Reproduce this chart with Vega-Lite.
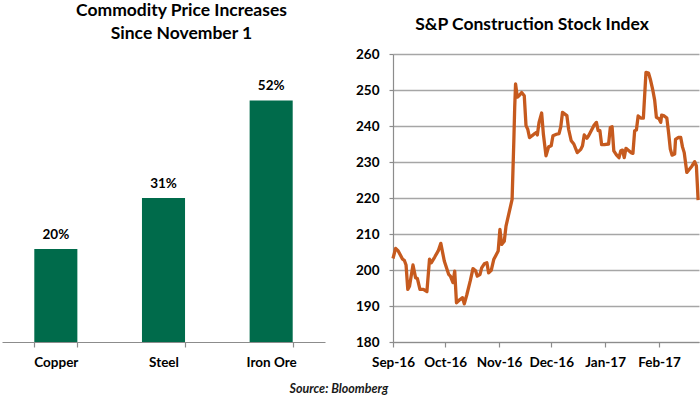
{
  "$schema": "https://vega.github.io/schema/vega-lite/v6.json",
  "background": "white",
  "padding": {"left": 2, "top": 1, "right": 1, "bottom": 2},
  "bounds": "flush",
  "spacing": 68,
  "title": {"text": "Source: Bloomberg", "orient": "bottom", "anchor": "middle", "dx": -12, "offset": 14, "fontSize": 12.5, "fontStyle": "italic", "fontWeight": "bold", "font": "Lato", "color": "#1a1a1a"},
  "datasets": {
    "commodities": [
      {"commodity": "Copper", "increase": 0.20},
      {"commodity": "Steel", "increase": 0.31},
      {"commodity": "Iron Ore", "increase": 0.52}
    ],
    "index": [
      {"date": "2016-09-01T00:00:00Z", "value": 203.2},
      {"date": "2016-09-02T12:00:00Z", "value": 206.0},
      {"date": "2016-09-04T00:00:00Z", "value": 205.3},
      {"date": "2016-09-06T12:00:00Z", "value": 203.0},
      {"date": "2016-09-07T12:00:00Z", "value": 202.7},
      {"date": "2016-09-08T12:00:00Z", "value": 201.4},
      {"date": "2016-09-09T12:00:00Z", "value": 194.6},
      {"date": "2016-09-10T12:00:00Z", "value": 195.5},
      {"date": "2016-09-12T12:00:00Z", "value": 201.4},
      {"date": "2016-09-14T00:00:00Z", "value": 197.8},
      {"date": "2016-09-15T00:00:00Z", "value": 197.7},
      {"date": "2016-09-16T12:00:00Z", "value": 194.6},
      {"date": "2016-09-18T12:00:00Z", "value": 194.6},
      {"date": "2016-09-20T12:00:00Z", "value": 194.0},
      {"date": "2016-09-22T00:00:00Z", "value": 203.0},
      {"date": "2016-09-23T00:00:00Z", "value": 202.0},
      {"date": "2016-09-25T00:00:00Z", "value": 203.6},
      {"date": "2016-09-27T00:00:00Z", "value": 205.3},
      {"date": "2016-09-28T12:00:00Z", "value": 207.4},
      {"date": "2016-09-30T12:00:00Z", "value": 202.5},
      {"date": "2016-10-03T00:00:00Z", "value": 198.8},
      {"date": "2016-10-04T00:00:00Z", "value": 198.3},
      {"date": "2016-10-05T12:00:00Z", "value": 196.5},
      {"date": "2016-10-06T12:00:00Z", "value": 199.7},
      {"date": "2016-10-07T12:00:00Z", "value": 190.9},
      {"date": "2016-10-09T12:00:00Z", "value": 191.8},
      {"date": "2016-10-11T00:00:00Z", "value": 192.3},
      {"date": "2016-10-12T00:00:00Z", "value": 190.6},
      {"date": "2016-10-13T12:00:00Z", "value": 193.2},
      {"date": "2016-10-15T12:00:00Z", "value": 197.1},
      {"date": "2016-10-17T00:00:00Z", "value": 200.4},
      {"date": "2016-10-18T12:00:00Z", "value": 199.8},
      {"date": "2016-10-19T12:00:00Z", "value": 198.3},
      {"date": "2016-10-21T00:00:00Z", "value": 198.7},
      {"date": "2016-10-22T00:00:00Z", "value": 200.6},
      {"date": "2016-10-23T12:00:00Z", "value": 201.7},
      {"date": "2016-10-25T00:00:00Z", "value": 202.0},
      {"date": "2016-10-26T00:00:00Z", "value": 199.2},
      {"date": "2016-10-27T12:00:00Z", "value": 199.9},
      {"date": "2016-10-29T00:00:00Z", "value": 203.0},
      {"date": "2016-10-30T00:00:00Z", "value": 203.9},
      {"date": "2016-10-31T12:00:00Z", "value": 205.3},
      {"date": "2016-11-01T12:00:00Z", "value": 211.3},
      {"date": "2016-11-02T12:00:00Z", "value": 207.1},
      {"date": "2016-11-04T00:00:00Z", "value": 208.0},
      {"date": "2016-11-05T00:00:00Z", "value": 212.2},
      {"date": "2016-11-07T00:00:00Z", "value": 216.4},
      {"date": "2016-11-08T12:00:00Z", "value": 219.6},
      {"date": "2016-11-09T12:00:00Z", "value": 235.9},
      {"date": "2016-11-10T00:00:00Z", "value": 245.2},
      {"date": "2016-11-10T12:00:00Z", "value": 251.7},
      {"date": "2016-11-11T12:00:00Z", "value": 248.0},
      {"date": "2016-11-12T12:00:00Z", "value": 248.4},
      {"date": "2016-11-14T00:00:00Z", "value": 249.3},
      {"date": "2016-11-15T12:00:00Z", "value": 248.4},
      {"date": "2016-11-16T12:00:00Z", "value": 240.1},
      {"date": "2016-11-17T12:00:00Z", "value": 239.1},
      {"date": "2016-11-18T12:00:00Z", "value": 236.8},
      {"date": "2016-11-20T00:00:00Z", "value": 237.3},
      {"date": "2016-11-21T12:00:00Z", "value": 237.9},
      {"date": "2016-11-22T12:00:00Z", "value": 238.2},
      {"date": "2016-11-23T00:00:00Z", "value": 237.5},
      {"date": "2016-11-24T00:00:00Z", "value": 241.0},
      {"date": "2016-11-25T12:00:00Z", "value": 243.6},
      {"date": "2016-11-26T12:00:00Z", "value": 237.7},
      {"date": "2016-11-28T00:00:00Z", "value": 231.7},
      {"date": "2016-11-29T12:00:00Z", "value": 234.2},
      {"date": "2016-12-01T00:00:00Z", "value": 234.5},
      {"date": "2016-12-02T00:00:00Z", "value": 237.3},
      {"date": "2016-12-04T00:00:00Z", "value": 237.7},
      {"date": "2016-12-05T12:00:00Z", "value": 237.9},
      {"date": "2016-12-06T12:00:00Z", "value": 239.8},
      {"date": "2016-12-07T12:00:00Z", "value": 243.8},
      {"date": "2016-12-10T00:00:00Z", "value": 242.9},
      {"date": "2016-12-11T00:00:00Z", "value": 239.1},
      {"date": "2016-12-12T12:00:00Z", "value": 235.9},
      {"date": "2016-12-14T00:00:00Z", "value": 235.0},
      {"date": "2016-12-16T00:00:00Z", "value": 232.6},
      {"date": "2016-12-18T00:00:00Z", "value": 233.5},
      {"date": "2016-12-19T00:00:00Z", "value": 234.5},
      {"date": "2016-12-20T00:00:00Z", "value": 237.5},
      {"date": "2016-12-21T12:00:00Z", "value": 236.6},
      {"date": "2016-12-22T12:00:00Z", "value": 237.3},
      {"date": "2016-12-24T00:00:00Z", "value": 238.7},
      {"date": "2016-12-25T12:00:00Z", "value": 240.1},
      {"date": "2016-12-27T00:00:00Z", "value": 241.0},
      {"date": "2016-12-28T00:00:00Z", "value": 238.7},
      {"date": "2016-12-29T00:00:00Z", "value": 238.7},
      {"date": "2016-12-30T00:00:00Z", "value": 234.8},
      {"date": "2016-12-31T12:00:00Z", "value": 234.8},
      {"date": "2017-01-03T00:00:00Z", "value": 235.0},
      {"date": "2017-01-04T00:00:00Z", "value": 239.6},
      {"date": "2017-01-05T00:00:00Z", "value": 239.8},
      {"date": "2017-01-06T00:00:00Z", "value": 233.1},
      {"date": "2017-01-07T12:00:00Z", "value": 232.0},
      {"date": "2017-01-09T00:00:00Z", "value": 231.2},
      {"date": "2017-01-10T00:00:00Z", "value": 233.1},
      {"date": "2017-01-11T00:00:00Z", "value": 233.3},
      {"date": "2017-01-12T00:00:00Z", "value": 231.2},
      {"date": "2017-01-13T00:00:00Z", "value": 233.8},
      {"date": "2017-01-14T12:00:00Z", "value": 233.2},
      {"date": "2017-01-16T00:00:00Z", "value": 232.6},
      {"date": "2017-01-17T00:00:00Z", "value": 232.4},
      {"date": "2017-01-18T00:00:00Z", "value": 238.7},
      {"date": "2017-01-19T00:00:00Z", "value": 238.9},
      {"date": "2017-01-20T00:00:00Z", "value": 242.8},
      {"date": "2017-01-21T12:00:00Z", "value": 242.2},
      {"date": "2017-01-23T00:00:00Z", "value": 242.2},
      {"date": "2017-01-24T12:00:00Z", "value": 254.9},
      {"date": "2017-01-26T00:00:00Z", "value": 254.7},
      {"date": "2017-01-27T00:00:00Z", "value": 253.0},
      {"date": "2017-01-28T12:00:00Z", "value": 249.8},
      {"date": "2017-01-29T12:00:00Z", "value": 247.2},
      {"date": "2017-01-30T12:00:00Z", "value": 242.4},
      {"date": "2017-02-01T00:00:00Z", "value": 242.0},
      {"date": "2017-02-02T00:00:00Z", "value": 241.0},
      {"date": "2017-02-02T12:00:00Z", "value": 243.0},
      {"date": "2017-02-04T00:00:00Z", "value": 242.8},
      {"date": "2017-02-05T12:00:00Z", "value": 242.2},
      {"date": "2017-02-06T12:00:00Z", "value": 238.2},
      {"date": "2017-02-07T12:00:00Z", "value": 233.6},
      {"date": "2017-02-08T12:00:00Z", "value": 231.9},
      {"date": "2017-02-10T00:00:00Z", "value": 232.2},
      {"date": "2017-02-10T12:00:00Z", "value": 236.3},
      {"date": "2017-02-12T00:00:00Z", "value": 236.8},
      {"date": "2017-02-13T12:00:00Z", "value": 236.8},
      {"date": "2017-02-14T12:00:00Z", "value": 234.2},
      {"date": "2017-02-15T12:00:00Z", "value": 232.6},
      {"date": "2017-02-17T00:00:00Z", "value": 227.1},
      {"date": "2017-02-18T12:00:00Z", "value": 228.0},
      {"date": "2017-02-20T00:00:00Z", "value": 228.9},
      {"date": "2017-02-21T12:00:00Z", "value": 230.1},
      {"date": "2017-02-22T12:00:00Z", "value": 228.9},
      {"date": "2017-02-23T12:00:00Z", "value": 219.4}
    ]
  },
  "hconcat": [
    {
      "width": 323,
      "height": 288,
      "title": {"text": ["Commodity Price Increases", "Since November 1"], "anchor": "middle", "dx": 18, "lineHeight": 23, "offset": 12},
      "data": {"name": "commodities"},
      "encoding": {
        "x": {"field": "commodity", "type": "nominal", "sort": null,
              "scale": {"paddingInner": 0.6, "paddingOuter": 0.3},
              "axis": {"title": null, "labelAngle": 0, "tickBand": "extent", "tickSize": 5, "labelPadding": 8, "labelFontSize": 13.5}},
        "y": {"field": "increase", "type": "quantitative", "scale": {"domain": [0, 0.62]}, "axis": null}
      },
      "layer": [
        {"mark": {"type": "bar", "color": "#006B4B"}},
        {"mark": {"type": "text", "baseline": "middle", "dy": -14, "fontWeight": "bold", "fontSize": 13.5, "font": "Lato", "color": "#000"},
         "encoding": {"text": {"field": "increase", "type": "quantitative", "format": ".0%"}}}
      ]
    },
    {
      "width": 306,
      "height": 288,
      "title": {"text": "S&P Construction Stock Index", "anchor": "middle", "frame": "group", "dx": -14, "offset": 14},
      "data": {"name": "index"},
      "mark": {"type": "line", "color": "#C65A1E", "strokeWidth": 3.3, "strokeJoin": "round"},
      "encoding": {
        "x": {"field": "date", "type": "temporal",
              "scale": {"type": "utc", "domain": [{"year": 2016, "month": 9, "date": 1, "utc": true}, {"year": 2017, "month": 2, "date": 24, "utc": true}]},
              "axis": {"title": null, "grid": false, "tickSize": 5, "labelPadding": 8, "labelAlign": "center", "labelFlush": false, "labelFontSize": 13.5,
                       "values": [{"year": 2016, "month": 9, "date": 1, "utc": true}, {"year": 2016, "month": 10, "date": 1, "utc": true}, {"year": 2016, "month": 11, "date": 1, "utc": true}, {"year": 2016, "month": 12, "date": 1, "utc": true}, {"year": 2017, "month": 1, "date": 1, "utc": true}, {"year": 2017, "month": 2, "date": 1, "utc": true}],
                       "labelExpr": "utcFormat(datum.value, '%b-%y')", "labelOverlap": false}},
        "y": {"field": "value", "type": "quantitative",
              "scale": {"domain": [180, 260], "nice": false, "zero": false},
              "axis": {"title": null, "values": [180, 190, 200, 210, 220, 230, 240, 250, 260], "grid": true, "gridWidth": 1.5, "tickSize": 4, "labelPadding": 10, "labelFontSize": 13.5}}
      }
    }
  ],
  "config": {
    "font": "Lato",
    "view": {"stroke": null},
    "axis": {"labelFont": "Lato", "labelFontWeight": "bold", "labelColor": "#000", "labelFontSize": 13, "domainColor": "#8c8c8c", "tickColor": "#8c8c8c", "gridColor": "#a6a6a6", "domainWidth": 1.2, "tickWidth": 1.2},
    "title": {"font": "Lato", "fontWeight": "bold", "fontSize": 17.5, "color": "#000"}
  }
}
